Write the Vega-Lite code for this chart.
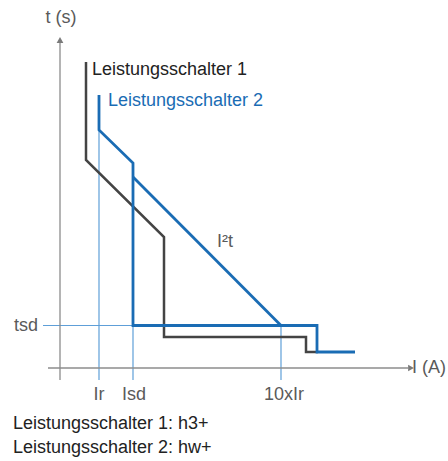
{
  "$schema": "https://vega.github.io/schema/vega-lite/v6.json",
  "width": 448,
  "height": 461,
  "padding": 0,
  "autosize": {"type": "fit", "contains": "padding"},
  "background": "white",
  "config": {"view": {"stroke": null}, "text": {"font": "Liberation Sans", "fontSize": 18}},
  "datasets": {
    "curves": [
      {"series": "axis_t", "i": 0, "x": 0, "y": -12},
      {"series": "axis_t", "i": 1, "x": 0, "y": 326},
      {"series": "axis_I", "i": 0, "x": -12, "y": 0},
      {"series": "axis_I", "i": 1, "x": 348, "y": 0},
      {"series": "g_tsd", "i": 0, "x": -17, "y": 42.5},
      {"series": "g_tsd", "i": 1, "x": 257, "y": 42.5},
      {"series": "g_Ir", "i": 0, "x": 39, "y": 238},
      {"series": "g_Ir", "i": 1, "x": 39, "y": -12},
      {"series": "g_Isd", "i": 0, "x": 73, "y": 42.5},
      {"series": "g_Isd", "i": 1, "x": 73, "y": -12},
      {"series": "g_10xIr", "i": 0, "x": 221, "y": 42.5},
      {"series": "g_10xIr", "i": 1, "x": 221, "y": -12},
      {"series": "Leistungsschalter 1", "i": 0, "x": 26, "y": 306},
      {"series": "Leistungsschalter 1", "i": 1, "x": 26, "y": 208},
      {"series": "Leistungsschalter 1", "i": 2, "x": 104, "y": 131},
      {"series": "Leistungsschalter 1", "i": 3, "x": 104, "y": 31},
      {"series": "Leistungsschalter 1", "i": 4, "x": 246, "y": 31},
      {"series": "Leistungsschalter 1", "i": 5, "x": 246, "y": 16},
      {"series": "Leistungsschalter 1", "i": 6, "x": 258, "y": 16},
      {"series": "Leistungsschalter 2", "i": 0, "x": 39, "y": 273},
      {"series": "Leistungsschalter 2", "i": 1, "x": 39, "y": 238},
      {"series": "Leistungsschalter 2", "i": 2, "x": 73, "y": 205},
      {"series": "Leistungsschalter 2", "i": 3, "x": 73, "y": 42.5},
      {"series": "Leistungsschalter 2", "i": 4, "x": 257, "y": 42.5},
      {"series": "Leistungsschalter 2", "i": 5, "x": 257, "y": 16},
      {"series": "Leistungsschalter 2", "i": 6, "x": 295, "y": 16},
      {"series": "I2t", "i": 0, "x": 73, "y": 191},
      {"series": "I2t", "i": 1, "x": 221, "y": 42.5}
    ],
    "arrows": [
      {"axis": "t", "x": 0, "y": 328},
      {"axis": "I", "x": 351, "y": 0}
    ],
    "labels": [
      {"label": "t (s)", "role": "axis", "pos": "center", "x": 1, "y": 350},
      {"label": "I (A)", "role": "axis", "pos": "left", "x": 352, "y": 0},
      {"label": "tsd", "role": "axis", "pos": "right", "x": -22, "y": 42.5},
      {"label": "Ir", "role": "axis", "pos": "center", "x": 39, "y": -27},
      {"label": "Isd", "role": "axis", "pos": "center", "x": 74, "y": -27},
      {"label": "10xIr", "role": "axis", "pos": "center", "x": 224, "y": -27},
      {"label": "I²t", "role": "axis", "pos": "left", "x": 157, "y": 126},
      {"label": "Leistungsschalter 1", "role": "black", "pos": "left", "x": 32, "y": 298},
      {"label": "Leistungsschalter 2", "role": "blue", "pos": "left", "x": 48, "y": 267},
      {"label": "Leistungsschalter 1: h3+", "role": "black", "pos": "left", "x": -47, "y": -56},
      {"label": "Leistungsschalter 2: hw+", "role": "black", "pos": "left", "x": -47, "y": -80}
    ]
  },
  "encoding": {
    "x": {"field": "x", "type": "quantitative", "scale": {"domain": [-60, 388], "nice": false, "zero": false}, "axis": null},
    "y": {"field": "y", "type": "quantitative", "scale": {"domain": [-93, 368], "nice": false, "zero": false}, "axis": null}
  },
  "layer": [
    {
      "data": {"name": "curves"},
      "transform": [{"filter": "indexof(datum.series, 'g_') === 0"}],
      "mark": {"type": "line", "color": "#5e9fd8", "strokeWidth": 1.2},
      "encoding": {"detail": {"field": "series"}, "order": {"field": "i", "type": "quantitative"}}
    },
    {
      "data": {"name": "curves"},
      "transform": [{"filter": "indexof(datum.series, 'axis_') === 0"}],
      "mark": {"type": "line", "color": "#8c8c8c", "strokeWidth": 1.3},
      "encoding": {"detail": {"field": "series"}, "order": {"field": "i", "type": "quantitative"}}
    },
    {
      "data": {"name": "arrows"},
      "mark": {"type": "point", "filled": true, "color": "#7a7a7a", "opacity": 1, "size": 45},
      "encoding": {
        "shape": {"field": "axis", "type": "nominal", "scale": {"domain": ["t", "I"], "range": ["triangle-up", "triangle-right"]}, "legend": null}
      }
    },
    {
      "data": {"name": "curves"},
      "transform": [{"filter": "datum.series === 'Leistungsschalter 1'"}],
      "mark": {"type": "line", "color": "#444444", "strokeWidth": 2.5, "strokeJoin": "miter"},
      "encoding": {"detail": {"field": "series"}, "order": {"field": "i", "type": "quantitative"}}
    },
    {
      "data": {"name": "curves"},
      "transform": [{"filter": "datum.series === 'Leistungsschalter 2' || datum.series === 'I2t'"}],
      "mark": {"type": "line", "color": "#1a6cb4", "strokeWidth": 2.8, "strokeJoin": "miter"},
      "encoding": {"detail": {"field": "series"}, "order": {"field": "i", "type": "quantitative"}}
    },
    {
      "data": {"name": "labels"},
      "transform": [{"filter": "datum.pos === 'left'"}],
      "mark": {"type": "text", "align": "left", "baseline": "middle"},
      "encoding": {
        "text": {"field": "label"},
        "color": {"field": "role", "type": "nominal", "scale": {"domain": ["axis", "black", "blue"], "range": ["#5a5a5a", "#222222", "#1a6cb4"]}, "legend": null}
      }
    },
    {
      "data": {"name": "labels"},
      "transform": [{"filter": "datum.pos === 'center'"}],
      "mark": {"type": "text", "align": "center", "baseline": "middle"},
      "encoding": {
        "text": {"field": "label"},
        "color": {"field": "role", "type": "nominal", "scale": {"domain": ["axis", "black", "blue"], "range": ["#5a5a5a", "#222222", "#1a6cb4"]}, "legend": null}
      }
    },
    {
      "data": {"name": "labels"},
      "transform": [{"filter": "datum.pos === 'right'"}],
      "mark": {"type": "text", "align": "right", "baseline": "middle"},
      "encoding": {
        "text": {"field": "label"},
        "color": {"field": "role", "type": "nominal", "scale": {"domain": ["axis", "black", "blue"], "range": ["#5a5a5a", "#222222", "#1a6cb4"]}, "legend": null}
      }
    }
  ]
}
